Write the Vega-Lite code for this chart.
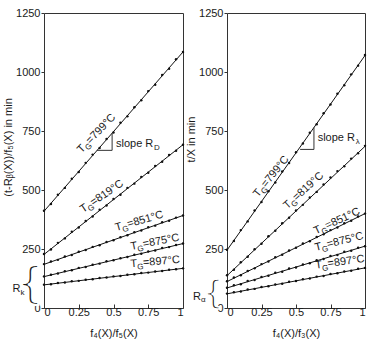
{
"$schema":"https://vega.github.io/schema/vega-lite/v6.json",
"autosize":{"type":"pad"},
"padding":{"left":2,"top":6,"right":7,"bottom":2},
"background":"white",
"spacing":44,
"bounds":"flush",
"config":{
"font":"Liberation Sans",
"view":{"stroke":"#333","strokeWidth":1},
"axis":{"grid":false,"domain":false,"labelFontSize":11,"titleFontSize":11,"titleFontWeight":"normal","labelColor":"#1a1a1a","titleColor":"#1a1a1a","tickColor":"#333","labelFont":"Liberation Sans","titleFont":"Liberation Sans"},
"axisY":{"tickSize":3,"labelPadding":1,"titlePadding":2},
"axisX":{"tickSize":-4,"labelPadding":2,"titlePadding":10},
"text":{"color":"#1a1a1a","font":"Liberation Sans"}
},
"datasets":{
"fits":[
{"p":"a","s":"799","x":0,"y":410,"x2":1,"y2":1085},
{"p":"a","s":"819","x":0,"y":227,"x2":1,"y2":692},
{"p":"a","s":"851","x":0,"y":185,"x2":1,"y2":392},
{"p":"a","s":"875","x":0,"y":133,"x2":1,"y2":273},
{"p":"a","s":"897","x":0,"y":98,"x2":1,"y2":168},
{"p":"b","s":"799","x":0,"y":245,"x2":1,"y2":1070},
{"p":"b","s":"819","x":0,"y":137,"x2":1,"y2":685},
{"p":"b","s":"851","x":0,"y":112,"x2":1,"y2":400},
{"p":"b","s":"875","x":0,"y":85,"x2":1,"y2":262},
{"p":"b","s":"897","x":0,"y":60,"x2":1,"y2":170}
],
"tri":[
{"p":"a","x":0.38,"y":668,"x2":0.49,"y2":668},
{"p":"a","x":0.49,"y":668,"x2":0.49,"y2":741},
{"p":"b","x":0.53,"y":672,"x2":0.63,"y2":672},
{"p":"b","x":0.63,"y":672,"x2":0.63,"y2":765}
],
"slope":[
{"p":"a","x":0.518,"y":683,"t":"slope R","sub":"D"},
{"p":"b","x":0.657,"y":707,"t":"slope R","sub":"λ"}
],
"brace":[
{"p":"a","x":-0.1,"y":96},
{"p":"b","x":-0.1,"y":62}
],
"rsym":[
{"p":"a","x":-0.227,"y":66,"sub":"k"},
{"p":"b","x":-0.246,"y":34,"sub":"α"}
],
"labels":[
{"p":"a","s":"799","x":0.27,"y":655,"t":"=799°C"},
{"p":"a","s":"819","x":0.28,"y":403,"t":"=819°C"},
{"p":"a","s":"851","x":0.52,"y":326,"t":"=851°C"},
{"p":"a","s":"875","x":0.627,"y":246,"t":"=875°C"},
{"p":"a","s":"897","x":0.624,"y":173,"t":"=897°C"},
{"p":"b","s":"799","x":0.225,"y":467,"t":"=799°C"},
{"p":"b","s":"819","x":0.436,"y":417,"t":"=819°C"},
{"p":"b","s":"851","x":0.643,"y":311,"t":"=851°C"},
{"p":"b","s":"875","x":0.643,"y":242,"t":"=875°C"},
{"p":"b","s":"897","x":0.643,"y":166,"t":"=897°C"}
],
"ptsA":[
{"s":"799","x":0,"y":412},{"s":"799","x":0.05,"y":441},{"s":"799","x":0.1,"y":480},{"s":"799","x":0.15,"y":509},{"s":"799","x":0.2,"y":548},{"s":"799","x":0.25,"y":576},{"s":"799","x":0.3,"y":615},{"s":"799","x":0.35,"y":650},{"s":"799","x":0.4,"y":678},{"s":"799","x":0.45,"y":716},{"s":"799","x":0.5,"y":744},{"s":"799","x":0.55,"y":785},{"s":"799","x":0.6,"y":812},{"s":"799","x":0.65,"y":851},{"s":"799","x":0.7,"y":880},{"s":"799","x":0.75,"y":919},{"s":"799","x":0.8,"y":946},{"s":"799","x":0.85,"y":987},{"s":"799","x":0.9,"y":1014},{"s":"799","x":0.95,"y":1054},{"s":"799","x":1,"y":1085},
{"s":"819","x":0,"y":229},{"s":"819","x":0.05,"y":248},{"s":"819","x":0.1,"y":276},{"s":"819","x":0.15,"y":295},{"s":"819","x":0.2,"y":323},{"s":"819","x":0.25,"y":341},{"s":"819","x":0.3,"y":369},{"s":"819","x":0.35,"y":388},{"s":"819","x":0.4,"y":416},{"s":"819","x":0.45,"y":434},{"s":"819","x":0.5,"y":462},{"s":"819","x":0.55,"y":480},{"s":"819","x":0.6,"y":509},{"s":"819","x":0.65,"y":527},{"s":"819","x":0.7,"y":555},{"s":"819","x":0.75,"y":573},{"s":"819","x":0.8,"y":602},{"s":"819","x":0.85,"y":620},{"s":"819","x":0.9,"y":648},{"s":"819","x":0.95,"y":666},{"s":"819","x":1,"y":692},
{"s":"851","x":0,"y":186},{"s":"851","x":0.05,"y":197},{"s":"851","x":0.1,"y":204},{"s":"851","x":0.15,"y":218},{"s":"851","x":0.2,"y":225},{"s":"851","x":0.25,"y":238},{"s":"851","x":0.3,"y":246},{"s":"851","x":0.35,"y":259},{"s":"851","x":0.4,"y":266},{"s":"851","x":0.45,"y":280},{"s":"851","x":0.5,"y":287},{"s":"851","x":0.55,"y":300},{"s":"851","x":0.6,"y":308},{"s":"851","x":0.65,"y":321},{"s":"851","x":0.7,"y":328},{"s":"851","x":0.75,"y":342},{"s":"851","x":0.8,"y":349},{"s":"851","x":0.85,"y":363},{"s":"851","x":0.9,"y":370},{"s":"851","x":0.95,"y":383},{"s":"851","x":1,"y":392},
{"s":"875","x":0,"y":134},{"s":"875","x":0.05,"y":141},{"s":"875","x":0.1,"y":146},{"s":"875","x":0.15,"y":156},{"s":"875","x":0.2,"y":160},{"s":"875","x":0.25,"y":170},{"s":"875","x":0.3,"y":174},{"s":"875","x":0.35,"y":183},{"s":"875","x":0.4,"y":188},{"s":"875","x":0.45,"y":198},{"s":"875","x":0.5,"y":202},{"s":"875","x":0.55,"y":211},{"s":"875","x":0.6,"y":216},{"s":"875","x":0.65,"y":226},{"s":"875","x":0.7,"y":230},{"s":"875","x":0.75,"y":239},{"s":"875","x":0.8,"y":244},{"s":"875","x":0.85,"y":254},{"s":"875","x":0.9,"y":258},{"s":"875","x":0.95,"y":267},{"s":"875","x":1,"y":273},
{"s":"897","x":0,"y":99},{"s":"897","x":0.05,"y":101},{"s":"897","x":0.1,"y":106},{"s":"897","x":0.15,"y":108},{"s":"897","x":0.2,"y":113},{"s":"897","x":0.25,"y":115},{"s":"897","x":0.3,"y":120},{"s":"897","x":0.35,"y":122},{"s":"897","x":0.4,"y":127},{"s":"897","x":0.45,"y":129},{"s":"897","x":0.5,"y":134},{"s":"897","x":0.55,"y":136},{"s":"897","x":0.6,"y":141},{"s":"897","x":0.65,"y":143},{"s":"897","x":0.7,"y":148},{"s":"897","x":0.75,"y":150},{"s":"897","x":0.8,"y":155},{"s":"897","x":0.85,"y":157},{"s":"897","x":0.9,"y":162},{"s":"897","x":0.95,"y":164},{"s":"897","x":1,"y":168}
],
"ptsB":[
{"s":"799","x":0,"y":247},{"s":"799","x":0.05,"y":284},{"s":"799","x":0.1,"y":330},{"s":"799","x":0.15,"y":367},{"s":"799","x":0.2,"y":413},{"s":"799","x":0.25,"y":449},{"s":"799","x":0.3,"y":495},{"s":"799","x":0.35,"y":532},{"s":"799","x":0.4,"y":578},{"s":"799","x":0.45,"y":614},{"s":"799","x":0.5,"y":660},{"s":"799","x":0.55,"y":697},{"s":"799","x":0.6,"y":743},{"s":"799","x":0.65,"y":779},{"s":"799","x":0.7,"y":825},{"s":"799","x":0.75,"y":862},{"s":"799","x":0.8,"y":908},{"s":"799","x":0.85,"y":944},{"s":"799","x":0.9,"y":990},{"s":"799","x":0.95,"y":1027},{"s":"799","x":1,"y":1072},
{"s":"819","x":0,"y":139},{"s":"819","x":0.05,"y":162},{"s":"819","x":0.1,"y":194},{"s":"819","x":0.15,"y":217},{"s":"819","x":0.2,"y":249},{"s":"819","x":0.25,"y":272},{"s":"819","x":0.3,"y":304},{"s":"819","x":0.35,"y":327},{"s":"819","x":0.4,"y":359},{"s":"819","x":0.45,"y":382},{"s":"819","x":0.5,"y":413},{"s":"819","x":0.55,"y":437},{"s":"819","x":0.6,"y":468},{"s":"819","x":0.65,"y":492},{"s":"819","x":0.7,"y":523},{"s":"819","x":0.75,"y":553},{"s":"819","x":0.8,"y":580},{"s":"819","x":0.85,"y":601},{"s":"819","x":0.9,"y":633},{"s":"819","x":0.95,"y":656},{"s":"819","x":1,"y":687},
{"s":"851","x":0,"y":113},{"s":"851","x":0.05,"y":129},{"s":"851","x":0.1,"y":139},{"s":"851","x":0.15,"y":157},{"s":"851","x":0.2,"y":168},{"s":"851","x":0.25,"y":186},{"s":"851","x":0.3,"y":197},{"s":"851","x":0.35,"y":215},{"s":"851","x":0.4,"y":226},{"s":"851","x":0.45,"y":244},{"s":"851","x":0.5,"y":255},{"s":"851","x":0.55,"y":273},{"s":"851","x":0.6,"y":283},{"s":"851","x":0.65,"y":301},{"s":"851","x":0.7,"y":312},{"s":"851","x":0.75,"y":330},{"s":"851","x":0.8,"y":341},{"s":"851","x":0.85,"y":359},{"s":"851","x":0.9,"y":370},{"s":"851","x":0.95,"y":388},{"s":"851","x":1,"y":400},
{"s":"875","x":0,"y":86},{"s":"875","x":0.05,"y":96},{"s":"875","x":0.1,"y":101},{"s":"875","x":0.15,"y":114},{"s":"875","x":0.2,"y":119},{"s":"875","x":0.25,"y":131},{"s":"875","x":0.3,"y":137},{"s":"875","x":0.35,"y":149},{"s":"875","x":0.4,"y":154},{"s":"875","x":0.45,"y":167},{"s":"875","x":0.5,"y":172},{"s":"875","x":0.55,"y":184},{"s":"875","x":0.6,"y":190},{"s":"875","x":0.65,"y":202},{"s":"875","x":0.7,"y":208},{"s":"875","x":0.75,"y":220},{"s":"875","x":0.8,"y":225},{"s":"875","x":0.85,"y":238},{"s":"875","x":0.9,"y":243},{"s":"875","x":0.95,"y":255},{"s":"875","x":1,"y":262},
{"s":"897","x":0,"y":61},{"s":"897","x":0.05,"y":67},{"s":"897","x":0.1,"y":70},{"s":"897","x":0.15,"y":78},{"s":"897","x":0.2,"y":81},{"s":"897","x":0.25,"y":89},{"s":"897","x":0.3,"y":92},{"s":"897","x":0.35,"y":100},{"s":"897","x":0.4,"y":103},{"s":"897","x":0.45,"y":111},{"s":"897","x":0.5,"y":114},{"s":"897","x":0.55,"y":122},{"s":"897","x":0.6,"y":125},{"s":"897","x":0.65,"y":133},{"s":"897","x":0.7,"y":136},{"s":"897","x":0.75,"y":144},{"s":"897","x":0.8,"y":147},{"s":"897","x":0.85,"y":155},{"s":"897","x":0.9,"y":158},{"s":"897","x":0.95,"y":166},{"s":"897","x":1,"y":170}
]
},
"hconcat":[
{
"width":139,"height":295,
"encoding":{
"x":{"field":"x","type":"quantitative","scale":{"domain":[0,1],"nice":false,"zero":false},"axis":{"values":[0,0.25,0.5,0.75,1],"format":".2~f","title":"f₄(X)/f₅(X)"}},
"y":{"field":"y","type":"quantitative","scale":{"domain":[0,1250],"nice":false},"axis":{"values":[0,250,500,750,1000,1250],"format":"d","title":"(t-Rᵦ(X))/f₅(X) in min","titleY":134}}
},
"layer":[
{"data":{"name":"fits"},"transform":[{"filter":"datum.p=='a'"}],"mark":{"type":"rule","color":"#111","strokeWidth":1},"encoding":{"x2":{"field":"x2"},"y2":{"field":"y2"}}},
{"data":{"name":"ptsA"},"mark":{"type":"point","filled":true,"size":6,"color":"#111","opacity":1}},
{"data":{"name":"tri"},"transform":[{"filter":"datum.p=='a'"}],"mark":{"type":"rule","color":"#333","strokeWidth":1},"encoding":{"x2":{"field":"x2"},"y2":{"field":"y2"}}},
{"data":{"name":"slope"},"transform":[{"filter":"datum.p=='a'"}],"layer":[
{"mark":{"type":"text","align":"left","baseline":"alphabetic","fontSize":11},"encoding":{"text":{"field":"t"}}},
{"mark":{"type":"text","align":"left","baseline":"alphabetic","fontSize":8,"dx":38,"dy":3},"encoding":{"text":{"field":"sub"}}}
]},
{"data":{"name":"brace"},"transform":[{"filter":"datum.p=='a'"}],"mark":{"type":"text","align":"center","baseline":"middle","fontSize":42,"font":"DejaVu Sans","stroke":"white","strokeWidth":2.2},"encoding":{"text":{"value":"{"}}},
{"data":{"name":"rsym"},"transform":[{"filter":"datum.p=='a'"}],"layer":[
{"mark":{"type":"text","align":"left","baseline":"alphabetic","fontSize":11},"encoding":{"text":{"value":"R"}}},
{"mark":{"type":"text","align":"left","baseline":"alphabetic","fontSize":8,"dx":8,"dy":3},"encoding":{"text":{"field":"sub"}}}
]},
{"data":{"name":"labels"},"transform":[{"filter":"datum.p=='a'&&datum.s=='799'"}],"layer":[
{"mark":{"type":"text","angle":-46,"align":"left","baseline":"alphabetic","fontSize":11},"encoding":{"text":{"value":"T"}}},
{"mark":{"type":"text","angle":-46,"align":"left","baseline":"alphabetic","fontSize":8,"dx":6.5,"dy":3},"encoding":{"text":{"value":"G"}}},
{"mark":{"type":"text","angle":-46,"align":"left","baseline":"alphabetic","fontSize":11,"dx":12.5},"encoding":{"text":{"field":"t"}}}
]},
{"data":{"name":"labels"},"transform":[{"filter":"datum.p=='a'&&datum.s=='819'"}],"layer":[
{"mark":{"type":"text","angle":-34,"align":"left","baseline":"alphabetic","fontSize":11},"encoding":{"text":{"value":"T"}}},
{"mark":{"type":"text","angle":-34,"align":"left","baseline":"alphabetic","fontSize":8,"dx":6.5,"dy":3},"encoding":{"text":{"value":"G"}}},
{"mark":{"type":"text","angle":-34,"align":"left","baseline":"alphabetic","fontSize":11,"dx":12.5},"encoding":{"text":{"field":"t"}}}
]},
{"data":{"name":"labels"},"transform":[{"filter":"datum.p=='a'&&datum.s=='851'"}],"layer":[
{"mark":{"type":"text","angle":-16,"align":"left","baseline":"alphabetic","fontSize":11},"encoding":{"text":{"value":"T"}}},
{"mark":{"type":"text","angle":-16,"align":"left","baseline":"alphabetic","fontSize":8,"dx":6.5,"dy":3},"encoding":{"text":{"value":"G"}}},
{"mark":{"type":"text","angle":-16,"align":"left","baseline":"alphabetic","fontSize":11,"dx":12.5},"encoding":{"text":{"field":"t"}}}
]},
{"data":{"name":"labels"},"transform":[{"filter":"datum.p=='a'&&datum.s=='875'"}],"layer":[
{"mark":{"type":"text","angle":-11,"align":"left","baseline":"alphabetic","fontSize":11},"encoding":{"text":{"value":"T"}}},
{"mark":{"type":"text","angle":-11,"align":"left","baseline":"alphabetic","fontSize":8,"dx":6.5,"dy":3},"encoding":{"text":{"value":"G"}}},
{"mark":{"type":"text","angle":-11,"align":"left","baseline":"alphabetic","fontSize":11,"dx":12.5},"encoding":{"text":{"field":"t"}}}
]},
{"data":{"name":"labels"},"transform":[{"filter":"datum.p=='a'&&datum.s=='897'"}],"layer":[
{"mark":{"type":"text","angle":-5,"align":"left","baseline":"alphabetic","fontSize":11},"encoding":{"text":{"value":"T"}}},
{"mark":{"type":"text","angle":-5,"align":"left","baseline":"alphabetic","fontSize":8,"dx":6.5,"dy":3},"encoding":{"text":{"value":"G"}}},
{"mark":{"type":"text","angle":-5,"align":"left","baseline":"alphabetic","fontSize":11,"dx":12.5},"encoding":{"text":{"field":"t"}}}
]}
]
},
{
"width":138,"height":295,
"encoding":{
"x":{"field":"x","type":"quantitative","scale":{"domain":[0,1],"nice":false,"zero":false},"axis":{"values":[0,0.25,0.5,0.75,1],"format":".2~f","title":"f₄(X)/f₃(X)"}},
"y":{"field":"y","type":"quantitative","scale":{"domain":[0,1250],"nice":false},"axis":{"values":[0,250,500,750,1000,1250],"format":"d","title":"t/X in min","titleY":126}}
},
"layer":[
{"data":{"name":"fits"},"transform":[{"filter":"datum.p=='b'"}],"mark":{"type":"rule","color":"#111","strokeWidth":1},"encoding":{"x2":{"field":"x2"},"y2":{"field":"y2"}}},
{"data":{"name":"ptsB"},"mark":{"type":"point","filled":true,"size":6,"color":"#111","opacity":1}},
{"data":{"name":"tri"},"transform":[{"filter":"datum.p=='b'"}],"mark":{"type":"rule","color":"#333","strokeWidth":1},"encoding":{"x2":{"field":"x2"},"y2":{"field":"y2"}}},
{"data":{"name":"slope"},"transform":[{"filter":"datum.p=='b'"}],"layer":[
{"mark":{"type":"text","align":"left","baseline":"alphabetic","fontSize":11},"encoding":{"text":{"field":"t"}}},
{"mark":{"type":"text","align":"left","baseline":"alphabetic","fontSize":8,"dx":38,"dy":3},"encoding":{"text":{"field":"sub"}}}
]},
{"data":{"name":"brace"},"transform":[{"filter":"datum.p=='b'"}],"mark":{"type":"text","align":"center","baseline":"middle","fontSize":32,"font":"DejaVu Sans","stroke":"white","strokeWidth":1.6},"encoding":{"text":{"value":"{"}}},
{"data":{"name":"rsym"},"transform":[{"filter":"datum.p=='b'"}],"layer":[
{"mark":{"type":"text","align":"left","baseline":"alphabetic","fontSize":11},"encoding":{"text":{"value":"R"}}},
{"mark":{"type":"text","align":"left","baseline":"alphabetic","fontSize":8,"dx":8,"dy":2},"encoding":{"text":{"field":"sub"}}}
]},
{"data":{"name":"labels"},"transform":[{"filter":"datum.p=='b'&&datum.s=='799'"}],"layer":[
{"mark":{"type":"text","angle":-51,"align":"left","baseline":"alphabetic","fontSize":11},"encoding":{"text":{"value":"T"}}},
{"mark":{"type":"text","angle":-51,"align":"left","baseline":"alphabetic","fontSize":8,"dx":6.5,"dy":3},"encoding":{"text":{"value":"G"}}},
{"mark":{"type":"text","angle":-51,"align":"left","baseline":"alphabetic","fontSize":11,"dx":12.5},"encoding":{"text":{"field":"t"}}}
]},
{"data":{"name":"labels"},"transform":[{"filter":"datum.p=='b'&&datum.s=='819'"}],"layer":[
{"mark":{"type":"text","angle":-42,"align":"left","baseline":"alphabetic","fontSize":11},"encoding":{"text":{"value":"T"}}},
{"mark":{"type":"text","angle":-42,"align":"left","baseline":"alphabetic","fontSize":8,"dx":6.5,"dy":3},"encoding":{"text":{"value":"G"}}},
{"mark":{"type":"text","angle":-42,"align":"left","baseline":"alphabetic","fontSize":11,"dx":12.5},"encoding":{"text":{"field":"t"}}}
]},
{"data":{"name":"labels"},"transform":[{"filter":"datum.p=='b'&&datum.s=='851'"}],"layer":[
{"mark":{"type":"text","angle":-25,"align":"left","baseline":"alphabetic","fontSize":11},"encoding":{"text":{"value":"T"}}},
{"mark":{"type":"text","angle":-25,"align":"left","baseline":"alphabetic","fontSize":8,"dx":6.5,"dy":3},"encoding":{"text":{"value":"G"}}},
{"mark":{"type":"text","angle":-25,"align":"left","baseline":"alphabetic","fontSize":11,"dx":12.5},"encoding":{"text":{"field":"t"}}}
]},
{"data":{"name":"labels"},"transform":[{"filter":"datum.p=='b'&&datum.s=='875'"}],"layer":[
{"mark":{"type":"text","angle":-14,"align":"left","baseline":"alphabetic","fontSize":11},"encoding":{"text":{"value":"T"}}},
{"mark":{"type":"text","angle":-14,"align":"left","baseline":"alphabetic","fontSize":8,"dx":6.5,"dy":3},"encoding":{"text":{"value":"G"}}},
{"mark":{"type":"text","angle":-14,"align":"left","baseline":"alphabetic","fontSize":11,"dx":12.5},"encoding":{"text":{"field":"t"}}}
]},
{"data":{"name":"labels"},"transform":[{"filter":"datum.p=='b'&&datum.s=='897'"}],"layer":[
{"mark":{"type":"text","angle":-8,"align":"left","baseline":"alphabetic","fontSize":11},"encoding":{"text":{"value":"T"}}},
{"mark":{"type":"text","angle":-8,"align":"left","baseline":"alphabetic","fontSize":8,"dx":6.5,"dy":3},"encoding":{"text":{"value":"G"}}},
{"mark":{"type":"text","angle":-8,"align":"left","baseline":"alphabetic","fontSize":11,"dx":12.5},"encoding":{"text":{"field":"t"}}}
]}
]
}
]
}
